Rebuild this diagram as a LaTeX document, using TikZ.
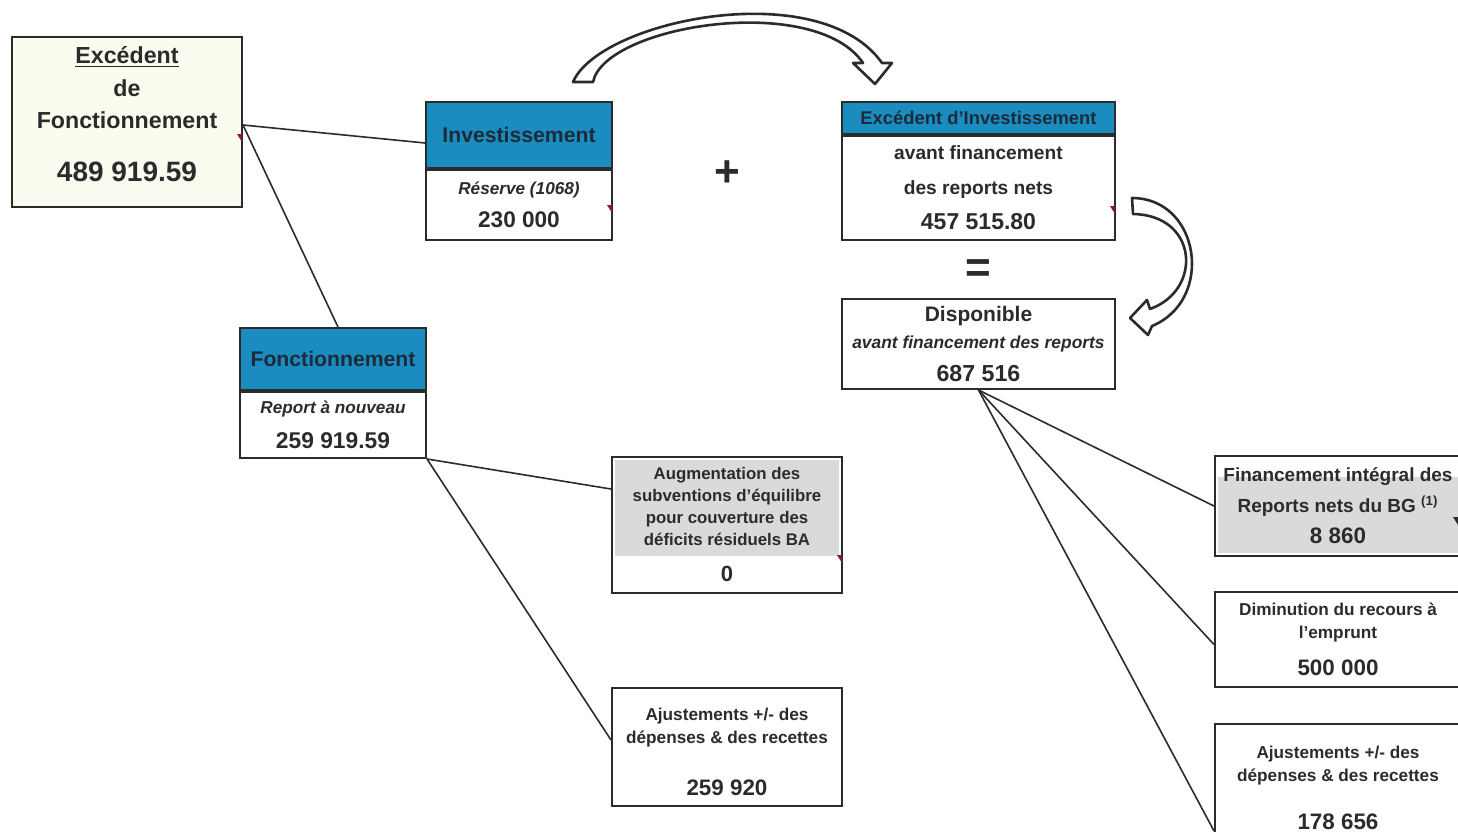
\documentclass[tikz,border=0pt]{standalone}
\usepackage{fontspec}
\setmainfont{Liberation Sans}
\usetikzlibrary{calc}
\definecolor{cellblue}{HTML}{1B8CBF}
\definecolor{cellgray}{HTML}{D9DADC}
\definecolor{cellcream}{HTML}{FBFBEF}
\definecolor{inkgray}{HTML}{2B2B2B}
\definecolor{headink}{HTML}{1C2B3A}
\definecolor{markred}{HTML}{8B1A2B}

\begin{document}
\begin{tikzpicture}[x=0.5pt, y=-0.5pt,
    cell/.style={draw=inkgray, line width=1pt, align=center, inner sep=0pt, text=inkgray,
                 font=\bfseries\fontsize{8.6}{11.5}\selectfont},
    head/.style={cell, fill=cellblue, text=headink, font=\bfseries\fontsize{10.6}{12}\selectfont},
    link/.style={draw=inkgray, line width=0.8pt},
    bigarrow/.style={draw=inkgray, line width=1.3pt, fill=white, line join=round}
  ]
    \useasboundingbox (0,0) rectangle (1458,831);

    % gray backgrounds of the two shaded cells
    \fill[cellgray] (615,460) rectangle (839,556);
    \fill[cellgray] (1218,477) rectangle (1461,553);

    \node[cell, fill=cellcream, minimum width=115pt, minimum height=85pt,
          font=\bfseries\fontsize{11.6}{16.3}\selectfont] (exfonc) at (127,122)
      {\underline{Excédent}\\de\\Fonctionnement\\[10pt]{\fontsize{14}{16}\selectfont 489 919.59}\rule[-8pt]{0pt}{8pt}};

    \node[head, minimum width=93pt, minimum height=33pt] (invhead) at (519,135) {Investissement};
    \node[cell, minimum width=93pt, minimum height=35pt, anchor=north] (invbody) at (invhead.south)
      {\textit{Réserve (1068)}\\[5pt]{\fontsize{11.3}{13}\selectfont 230 000}};

    \node[head, minimum width=136.5pt, minimum height=16pt,
          font=\bfseries\fontsize{9.2}{11}\selectfont] (exinvhead) at (978.5,118) {Excédent d'Investissement};
    \node[cell, minimum width=136.5pt, minimum height=52pt, anchor=north,
          font=\bfseries\fontsize{9.6}{17.5}\selectfont] (exinv) at (exinvhead.south)
      {avant financement\\des reports nets\\{\fontsize{11.5}{17.5}\selectfont 457 515.80}};

    \node[font=\bfseries\fontsize{22}{22}\selectfont, text=inkgray] (plus) at (727,174) {+};
    \node[font=\bfseries\fontsize{22}{22}\selectfont, text=inkgray] (equal) at (978,271) {=};

    \node[cell, minimum width=136.5pt, minimum height=45pt,
          font=\bfseries\fontsize{10.5}{13.5}\selectfont] (dispo) at (978.5,344)
      {Disponible\\{\itshape\fontsize{8.7}{13.5}\selectfont avant financement des reports}\\[3pt]{\fontsize{11.6}{13.5}\selectfont 687 516}};

    \node[head, minimum width=93pt, minimum height=31pt] (fonchead) at (333,359) {Fonctionnement};
    \node[cell, minimum width=93pt, minimum height=33pt, anchor=north] (fonc) at (fonchead.south)
      {\textit{Report à nouveau}\\[6pt]{\fontsize{11.4}{13}\selectfont 259 919.59}};

    \node[cell, minimum width=115pt, minimum height=68pt,
          font=\bfseries\fontsize{8.4}{11}\selectfont] (augm) at (727,525)
      {Augmentation des\\subventions d'équilibre\\pour couverture des\\déficits résiduels BA\\[7pt]{\fontsize{11}{13}\selectfont 0}};

    \node[cell, minimum width=115pt, minimum height=59pt] (ajfonc) at (727,747)
      {\rule{0pt}{11.5pt}Ajustements +/- des\\dépenses \& des recettes\\[14.5pt]{\fontsize{11.2}{13}\selectfont 259 920}};

    \node[cell, minimum width=123pt, minimum height=50pt,
          font=\bfseries\fontsize{9.5}{15.5}\selectfont] (finbg) at (1338,506)
      {Financement intégral des\\Reports nets du BG \textsuperscript{(1)}\\{\fontsize{11.2}{18}\selectfont 8 860}};

    \node[cell, minimum width=123pt, minimum height=47.5pt] (dimin) at (1338,639.5)
      {Diminution du recours à\\l'emprunt\\[7pt]{\fontsize{11.2}{13}\selectfont 500 000}};

    \node[cell, minimum width=123pt, minimum height=59pt] (ajinv) at (1338,783)
      {\rule{0pt}{10.8pt}Ajustements +/- des\\dépenses \& des recettes\\[12.5pt]{\fontsize{11.2}{13}\selectfont 178 656}};

    \draw[link] ($(exfonc.east)+(0,3)$) -- ($(invhead.west)+(0,8)$);
    \draw[link] ($(exfonc.east)+(0,3)$) -- ($(fonchead.north)+(5,0)$);
    \draw[link] (fonc.south east) -- ($(augm.west)+(0,-36)$);
    \draw[link] (fonc.south east) -- ($(ajfonc.west)+(0,-7)$);
    \draw[link] (dispo.south) -- (finbg.west);
    \draw[link] (dispo.south) -- ($(dimin.west)+(0,5)$);
    \draw[link] (dispo.south) -- ($(ajinv.west)+(0,48)$);

    % hollow curved arrows
    \draw[bigarrow] (573,82) .. controls (600,20) and (820,-25) .. (882,63)
      -- (892,63) -- (875,84) -- (853,63) -- (863,63)
      .. controls (815,-8) and (605,25) .. (593,82) -- cycle;
    \draw[bigarrow] (1132,198) .. controls (1200,198) and (1215,300) .. (1152,326)
      -- (1148,335) -- (1130,318) -- (1147,300) -- (1150,309)
      .. controls (1203,290) and (1198,215) .. (1133,214) -- cycle;

    % comment markers
    \foreach \mx/\my in {242/134, 612/205, 1115/206, 842/555}
      \fill[markred] (\mx,\my) -- ++(-5,0) -- ++(5,8) -- cycle;
    \fill[inkgray] (1458,517) -- ++(-5,0) -- ++(5,8) -- cycle;
\end{tikzpicture}
\end{document}
